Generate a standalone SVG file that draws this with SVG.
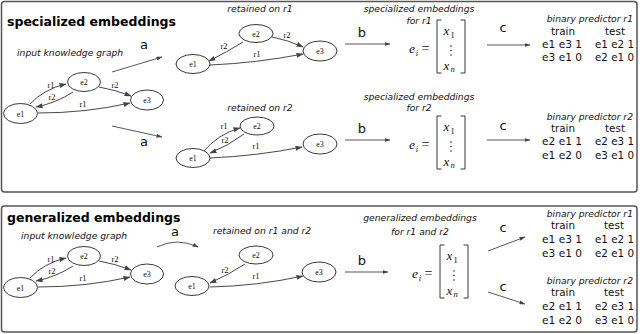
<svg xmlns="http://www.w3.org/2000/svg" width="640" height="334" viewBox="0 0 640 334">
<style>
.panel{fill:#fff;stroke:#555;stroke-width:1.5}
.title{font-family:"DejaVu Sans",sans-serif;font-weight:bold;font-size:12.5px;fill:#000}
.it{font-family:"DejaVu Sans",sans-serif;font-style:italic;font-size:9.2px;fill:#111}
.itc{font-family:"DejaVu Sans",sans-serif;font-style:italic;font-size:9.2px;fill:#111;text-anchor:middle}
.lab{font-family:"DejaVu Sans",sans-serif;font-size:13px;fill:#111;text-anchor:middle}
.tb{font-family:"DejaVu Sans",sans-serif;font-size:10.6px;fill:#111}
.tbc{font-family:"DejaVu Sans",sans-serif;font-size:10.4px;fill:#111;text-anchor:middle}
.node ellipse{fill:#fff;stroke:#222;stroke-width:0.9}
.node text{font-family:"Liberation Serif",serif;font-size:8px;fill:#111;text-anchor:middle}
.edge{fill:none;stroke:#333;stroke-width:0.9;marker-end:url(#ah)}
.elab{font-family:"Liberation Serif",serif;font-size:8.5px;fill:#111;text-anchor:middle}
.big{fill:none;stroke:#444;stroke-width:0.9;marker-end:url(#bh)}
.math{font-family:"Liberation Serif",serif;font-style:italic;fill:#111}
.mathr{font-family:"Liberation Serif",serif;fill:#111}
.brk{fill:none;stroke:#222;stroke-width:0.9}
</style>
<defs>
<marker id="ah" markerUnits="userSpaceOnUse" markerWidth="7" markerHeight="5" refX="6.5" refY="2.5" orient="auto"><path d="M0,0 L7,2.5 L0,5 z" fill="#444"/></marker>
<marker id="bh" markerUnits="userSpaceOnUse" markerWidth="6" markerHeight="4" refX="5.5" refY="2" orient="auto"><path d="M0,0 L6,2 L0,4 z" fill="#444"/></marker>
<g id="mat">
<text class="math" x="-28" y="33" font-size="13.5">e</text>
<text class="math" x="-21.3" y="35.5" font-size="8.5">i</text>
<text class="mathr" x="-15.5" y="33" font-size="14">=</text>
<path class="brk" d="M4.5,0 L0,0 L0,53 L4.5,53"/>
<path class="brk" d="M23.5,0 L28,0 L28,53 L23.5,53"/>
<text class="math" x="6.5" y="15" font-size="13">x</text>
<text class="mathr" x="13.5" y="17.5" font-size="8.5">1</text>
<circle cx="14" cy="26" r="0.8" fill="#222"/>
<circle cx="14" cy="30.5" r="0.8" fill="#222"/>
<circle cx="14" cy="35" r="0.8" fill="#222"/>
<text class="math" x="6.5" y="50" font-size="13">x</text>
<text class="math" x="13.5" y="52" font-size="8.5">n</text>
</g>
</defs>
<rect width="640" height="334" fill="#fff"/>
<rect class="panel" x="1.5" y="1.5" width="635.5" height="190.5" rx="3"/>
<rect class="panel" x="1.5" y="206" width="635.5" height="126" rx="3"/>

<text class="title" x="7" y="26">specialized embeddings</text>
<text class="title" x="7" y="222">generalized embeddings</text>

<g id="connectors">
<path class="edge" d="M30,104 Q44,89 66,84"/>
<path class="edge" d="M73,92 Q56,103 36,107"/>
<path class="edge" d="M99,87 Q116,90 131,96"/>
<path class="edge" d="M38,113 Q86,113 130,103"/>
<path class="edge" d="M243,42 Q227,52 209,61"/>
<path class="edge" d="M272,37 Q288,40 303,47"/>
<path class="edge" d="M210,65 Q257,63 303,54"/>
<path class="edge" d="M203,152 Q218,134 240,128"/>
<path class="edge" d="M244,134 Q228,146 210,153"/>
<path class="edge" d="M210,158 Q257,156 302,147"/>
<path class="edge" d="M30,278 Q44,263 66,258"/>
<path class="edge" d="M73,266 Q56,277 36,281"/>
<path class="edge" d="M99,261 Q116,264 131,270"/>
<path class="edge" d="M38,287 Q86,287 130,277"/>
<path class="edge" d="M245,264 Q228,275 210,283"/>
<path class="edge" d="M210,287 Q257,286 303,276"/>
<path class="big" d="M112,72 L162,57"/>
<path class="big" d="M112,126 L162,137"/>
<path class="big" d="M157,247 Q177,237 198,247"/>
<path class="big" d="M345,44 L390,44"/>
<path class="big" d="M345,140 L390,140"/>
<path class="big" d="M345,272 L388,272"/>
<path class="big" d="M487,45 L530,45"/>
<path class="big" d="M487,140 L530,140"/>
<path class="big" d="M488,251 L525,237"/>
<path class="big" d="M488,292 L525,304"/>
</g>

<!-- top input graph -->
<text class="it" x="17" y="56">input knowledge graph</text>
<text class="elab" x="51" y="88">r1</text>
<text class="elab" x="52" y="100">r2</text>
<text class="elab" x="115" y="88">r2</text>
<text class="elab" x="83" y="107">r1</text>
<g id="n-e1a" class="node"><ellipse cx="20.5" cy="113.5" rx="17" ry="10"/><text x="20.5" y="116.5">e1</text></g>
<g id="n-e2a" class="node"><ellipse cx="84" cy="82" rx="16.5" ry="9.5"/><text x="84" y="85">e2</text></g>
<g id="n-e3a" class="node"><ellipse cx="147" cy="100" rx="16.5" ry="10"/><text x="147" y="103">e3</text></g>

<!-- retained on r1 -->
<text class="itc" x="260" y="12">retained on r1</text>
<text class="elab" x="224" y="49">r2</text>
<text class="elab" x="287" y="38">r2</text>
<text class="elab" x="257" y="57">r1</text>
<g id="n-e1b" class="node"><ellipse cx="193" cy="64" rx="17" ry="9.5"/><text x="193" y="67">e1</text></g>
<g id="n-e2b" class="node"><ellipse cx="256" cy="33.5" rx="17" ry="9"/><text x="256" y="36.5">e2</text></g>
<g id="n-e3b" class="node"><ellipse cx="320" cy="51" rx="17" ry="10"/><text x="320" y="54">e3</text></g>

<!-- retained on r2 -->
<text class="itc" x="260" y="111">retained on r2</text>
<text class="elab" x="224" y="129">r1</text>
<text class="elab" x="225" y="143">r2</text>
<text class="elab" x="256" y="149">r1</text>
<g id="n-e1c" class="node"><ellipse cx="193" cy="158" rx="17" ry="9.5"/><text x="193" y="161">e1</text></g>
<g id="n-e2c" class="node"><ellipse cx="257" cy="126" rx="17" ry="9"/><text x="257" y="129">e2</text></g>
<g id="n-e3c" class="node"><ellipse cx="320" cy="144" rx="17" ry="10"/><text x="320" y="147">e3</text></g>

<!-- a b c labels top -->
<text class="lab" x="144" y="49">a</text>
<text class="lab" x="144" y="146">a</text>
<text class="lab" x="362" y="37">b</text>
<text class="lab" x="362" y="133">b</text>
<text class="lab" x="503" y="32">c</text>
<text class="lab" x="503" y="130">c</text>

<!-- specialized embeddings text -->
<text class="itc" x="419" y="12">specialized embeddings</text>
<text class="itc" x="419" y="24">for r1</text>
<text class="itc" x="419" y="100">specialized embeddings</text>
<text class="itc" x="419" y="111">for r2</text>
<use href="#mat" x="437" y="20"/>
<use href="#mat" x="437" y="116"/>

<!-- tables top -->
<text class="it" x="633" y="22" text-anchor="end">binary predictor r1</text>
<text class="tbc" x="563" y="35">train</text>
<text class="tbc" x="615" y="35">test</text>
<text class="tb" x="542" y="47.5" textLength="40" lengthAdjust="spacingAndGlyphs">e1 e3 1</text>
<text class="tb" x="595" y="47.5" textLength="39" lengthAdjust="spacingAndGlyphs">e1 e2 1</text>
<text class="tb" x="542" y="61" textLength="40" lengthAdjust="spacingAndGlyphs">e3 e1 0</text>
<text class="tb" x="595" y="61" textLength="39" lengthAdjust="spacingAndGlyphs">e2 e1 0</text>
<text class="it" x="633" y="120" text-anchor="end">binary predictor r2</text>
<text class="tbc" x="563" y="132">train</text>
<text class="tbc" x="615" y="132">test</text>
<text class="tb" x="542" y="145" textLength="40" lengthAdjust="spacingAndGlyphs">e2 e1 1</text>
<text class="tb" x="595" y="145" textLength="39" lengthAdjust="spacingAndGlyphs">e2 e3 1</text>
<text class="tb" x="542" y="158.5" textLength="40" lengthAdjust="spacingAndGlyphs">e1 e2 0</text>
<text class="tb" x="595" y="158.5" textLength="39" lengthAdjust="spacingAndGlyphs">e3 e1 0</text>

<!-- bottom panel -->
<text class="it" x="21" y="239">input knowledge graph</text>
<text class="elab" x="51" y="262">r1</text>
<text class="elab" x="52" y="274">r2</text>
<text class="elab" x="115" y="262">r2</text>
<text class="elab" x="83" y="281">r1</text>
<g id="n-e1d" class="node"><ellipse cx="20.5" cy="287.5" rx="17" ry="10"/><text x="20.5" y="290.5">e1</text></g>
<g id="n-e2d" class="node"><ellipse cx="84" cy="256" rx="16.5" ry="9.5"/><text x="84" y="259">e2</text></g>
<g id="n-e3d" class="node"><ellipse cx="147" cy="274" rx="16.5" ry="10"/><text x="147" y="277">e3</text></g>

<text class="lab" x="175" y="236">a</text>
<text class="itc" x="262" y="234">retained on r1 and r2</text>
<text class="elab" x="225" y="273">r2</text>
<text class="elab" x="256" y="279">r1</text>
<g id="n-e1e" class="node"><ellipse cx="192" cy="286" rx="17" ry="9.5"/><text x="192" y="289">e1</text></g>
<g id="n-e2e" class="node"><ellipse cx="256" cy="255" rx="17" ry="9"/><text x="256" y="258">e2</text></g>
<g id="n-e3e" class="node"><ellipse cx="319" cy="272" rx="17" ry="10"/><text x="319" y="275">e3</text></g>

<text class="lab" x="362" y="265">b</text>
<text class="itc" x="420" y="221">generalized embeddings</text>
<text class="itc" x="420" y="235">for r1 and r2</text>
<use href="#mat" x="440" y="245"/>
<text class="lab" x="503" y="232">c</text>
<text class="lab" x="503" y="291">c</text>

<text class="it" x="633" y="217" text-anchor="end">binary predictor r1</text>
<text class="tbc" x="563" y="229">train</text>
<text class="tbc" x="614" y="229">test</text>
<text class="tb" x="542" y="243" textLength="40" lengthAdjust="spacingAndGlyphs">e1 e3 1</text>
<text class="tb" x="595" y="243" textLength="39" lengthAdjust="spacingAndGlyphs">e1 e2 1</text>
<text class="tb" x="542" y="256.5" textLength="40" lengthAdjust="spacingAndGlyphs">e3 e1 0</text>
<text class="tb" x="595" y="256.5" textLength="39" lengthAdjust="spacingAndGlyphs">e2 e1 0</text>
<text class="it" x="633" y="284" text-anchor="end">binary predictor r2</text>
<text class="tbc" x="563" y="296">train</text>
<text class="tbc" x="614" y="296">test</text>
<text class="tb" x="542" y="310" textLength="40" lengthAdjust="spacingAndGlyphs">e2 e1 1</text>
<text class="tb" x="595" y="310" textLength="39" lengthAdjust="spacingAndGlyphs">e2 e3 1</text>
<text class="tb" x="542" y="323.5" textLength="40" lengthAdjust="spacingAndGlyphs">e1 e2 0</text>
<text class="tb" x="595" y="323.5" textLength="39" lengthAdjust="spacingAndGlyphs">e3 e1 0</text>
</svg>
